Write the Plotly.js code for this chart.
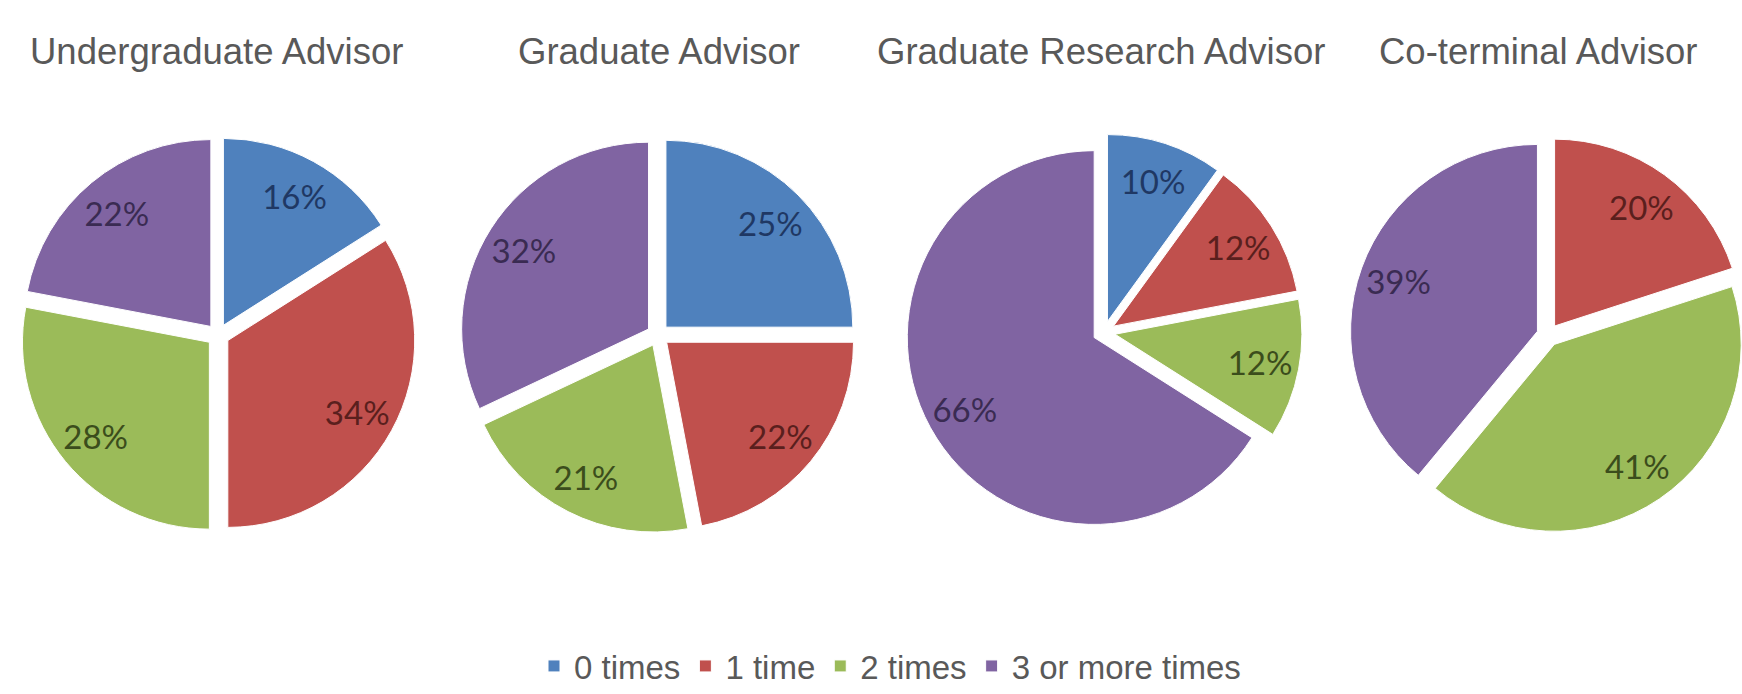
<!DOCTYPE html>
<html>
<head>
<meta charset="utf-8">
<script src="https://cdn.plot.ly/plotly-3.0.1.min.js"></script>
<style>
  html, body { margin: 0; padding: 0; background: #ffffff; overflow: hidden; }
  #chart { width: 1800px; height: 694px; }
</style>
</head>
<body>
<div id="chart"></div>
<script>
// ---- data ----
const categories = ["0 times", "1 time", "2 times", "3 or more times"];
const chartTitles = ["Undergraduate Advisor", "Graduate Advisor", "Graduate Research Advisor", "Co-terminal Advisor"];
const undergraduateValues = [16, 34, 28, 22];
const graduateValues = [25, 22, 21, 32];
const gradResearchValues = [10, 12, 12, 66];
const coterminalValues = [0, 20, 41, 39];

const seriesValues = [undergraduateValues, graduateValues, gradResearchValues, coterminalValues];
const sliceColors = ["#4f81bd", "#c0504d", "#9bbb59", "#8064a2"];
const labelColors = ["#1f3864", "#5a1f1d", "#3b4d1c", "#3a2b52"];

// ---- layout geometry (pixels) ----
const W = 1800, H = 694;
const pieCentersX = [218, 658, 1104, 1548];
const pieCentersY = [340, 340, 337, 340];
const titleCentersX = [216, 659, 1101, 1538];
const half = 201;       // outer radius incl. pull
const pull = 0.06;

function dom(i) {
  return {
    x: [(pieCentersX[i] - half) / W, (pieCentersX[i] + half) / W],
    y: [(H - pieCentersY[i] - half) / H, (H - pieCentersY[i] + half) / H]
  };
}

const traces = [];
seriesValues.forEach((vals, i) => {
  // coloured slices
  traces.push({
    type: "pie",
    labels: categories,
    values: vals,
    textinfo: "none",
    sort: false,
    direction: "clockwise",
    rotation: 0,
    pull: vals.map(() => pull),
    marker: { colors: sliceColors, line: { color: "#ffffff", width: 1 } },
    hoverinfo: "skip",
    showlegend: i === 0,
    domain: dom(i)
  });
  // percentage labels placed in the outer ring of each slice
  traces.push({
    type: "pie",
    labels: categories,
    values: vals,
    hole: 0.58,
    text: vals.map(v => v > 0 ? v + "%" : ""),
    textinfo: "text",
    textposition: "inside",
    insidetextorientation: "horizontal",
    sort: false,
    direction: "clockwise",
    rotation: 0,
    pull: vals.map(() => pull),
    marker: { colors: vals.map(() => "rgba(0,0,0,0)"), line: { width: 0 } },
    textfont: { family: "Lato, 'Open Sans', sans-serif", size: 33, color: labelColors },
    hoverinfo: "skip",
    showlegend: false,
    domain: dom(i)
  });
});

const annotations = chartTitles.map((t, i) => ({
  text: t,
  xref: "paper", yref: "paper",
  x: titleCentersX[i] / W, y: (H - 52) / H,
  xanchor: "center", yanchor: "middle",
  showarrow: false,
  font: { family: "'Liberation Sans', Arial, sans-serif", size: 36.5, color: "#595959" }
}));

const layout = {
  width: W, height: H,
  margin: { l: 0, r: 0, t: 0, b: 0 },
  paper_bgcolor: "#ffffff",
  showlegend: true,
  legend: {
    orientation: "h",
    x: 890 / W, xanchor: "center",
    y: (H - 676) / H, yanchor: "middle",
    font: { family: "'Liberation Sans', Arial, sans-serif", size: 33, color: "#595959" },
    itemwidth: 30
  },
  annotations: annotations
};

Plotly.newPlot("chart", traces, layout, { displayModeBar: false, staticPlot: true });
</script>
</body>
</html>
